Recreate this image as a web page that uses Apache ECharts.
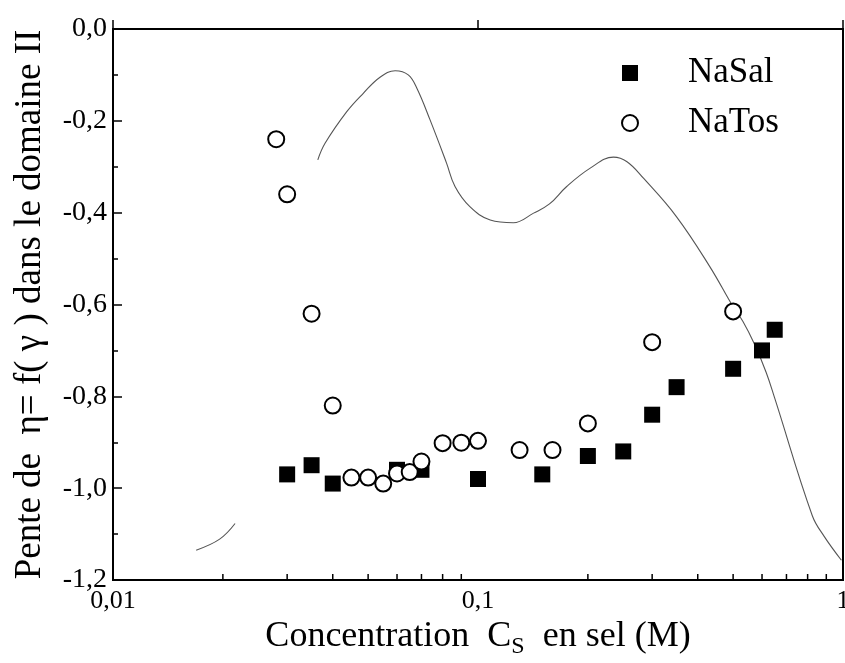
<!DOCTYPE html>
<html>
<head>
<meta charset="utf-8">
<script src="https://cdn.jsdelivr.net/npm/echarts@6/dist/echarts.min.js"></script>
<style>
  html, body { margin: 0; padding: 0; background: #fff; }
  #chart { width: 845px; height: 663px; }
</style>
</head>
<body>
<div id="chart"></div>
<script>
// NaSal (carrés pleins)
const naSalX = [0.03, 0.035, 0.04, 0.06, 0.07, 0.1, 0.15, 0.2, 0.25, 0.3, 0.35, 0.5, 0.6, 0.65]
const naSalY = [-0.97, -0.95, -0.99, -0.96, -0.96, -0.98, -0.97, -0.93, -0.92, -0.84, -0.78, -0.74, -0.70, -0.655]
// NaTos (cercles vides)
const naTosX = [0.028, 0.03, 0.035, 0.04, 0.045, 0.05, 0.055, 0.06, 0.065, 0.07, 0.08, 0.09, 0.1, 0.13, 0.16, 0.2, 0.3, 0.5]
const naTosY = [-0.24, -0.36, -0.62, -0.82, -0.977, -0.977, -0.99, -0.968, -0.965, -0.942, -0.902, -0.901, -0.897, -0.917, -0.917, -0.859, -0.682, -0.615]
// courbe fine (partie visible à gauche, puis partie principale)
const curveLeftX = [0.0169, 0.0196, 0.0216]
const curveLeftY = [-1.135, -1.111, -1.077]
const curveX = [0.0364, 0.0381, 0.0437, 0.0485, 0.0539, 0.0593, 0.0644, 0.068, 0.0739, 0.082, 0.0865, 0.095, 0.108, 0.125, 0.142, 0.157, 0.175, 0.203, 0.235, 0.256, 0.284, 0.35, 0.432, 0.5, 0.532, 0.571, 0.616, 0.65, 0.824, 0.888, 0.99]
const curveY = [-0.285, -0.249, -0.18, -0.14, -0.105, -0.091, -0.1, -0.129, -0.198, -0.292, -0.343, -0.387, -0.416, -0.422, -0.401, -0.381, -0.343, -0.303, -0.279, -0.289, -0.325, -0.409, -0.518, -0.605, -0.637, -0.685, -0.748, -0.804, -1.06, -1.105, -1.157]
// graduations secondaires (axe log)
const xMinorTicks = [0.02, 0.03, 0.04, 0.05, 0.06, 0.07, 0.08, 0.09, 0.2, 0.3, 0.4, 0.5, 0.6, 0.7, 0.8, 0.9]

const Y_MIN = -1.2
const FONT = 'Liberation Serif'

const pairs = (xs, ys) => xs.map((x, i) => [x, ys[i]])

const chart = echarts.init(document.getElementById('chart'))

const curveStyle = { color: '#555', width: 1.1 }

const option = {
    animation: false,
    backgroundColor: '#fff',
    textStyle: { fontFamily: FONT },
    grid: {
        left: 113, right: 2, top: 29, bottom: 83,
        outerBoundsMode: 'none',
        containLabel: false,
        show: true,
        borderColor: '#000',
        borderWidth: 2
    },
    legend: {
        data: ['NaSal', 'NaTos'],
        orient: 'vertical',
        left: 616,
        top: 50,
        itemWidth: 16,
        itemHeight: 16,
        itemGap: 14,
        textStyle: { fontFamily: FONT, fontSize: 35, color: '#000', padding: [0, 0, 0, 45], lineHeight: 36 }
    },
    xAxis: {
        type: 'log',
        logBase: 10,
        min: 0.01,
        max: 1,
        interval: 1,
        name: '{t|Concentration  C}{s|S}{t|  en sel (M)}',
        nameLocation: 'middle',
        nameGap: 28,
        nameTextStyle: {
            rich: {
                t: { fontFamily: FONT, fontSize: 36, color: '#000' },
                s: { fontFamily: FONT, fontSize: 24, color: '#000', padding: [20, 0, 0, 0] }
            }
        },
        axisLine: { lineStyle: { color: '#000', width: 2 } },
        axisTick: { inside: true, length: 9, lineStyle: { color: '#000', width: 1.5 } },
        axisLabel: {
            margin: 8,
            fontFamily: FONT, fontSize: 26, color: '#000',
            formatter: v => String(Number(v.toPrecision(3))).replace('.', ',')
        },
        splitLine: { show: false }
    },
    yAxis: {
        type: 'value',
        min: Y_MIN,
        max: 0,
        interval: 0.2,
        name: 'Pente de  η= f( γ ) dans le domaine II',
        nameLocation: 'middle',
        nameGap: 64,
        nameTextStyle: { fontFamily: FONT, fontSize: 37, color: '#000' },
        axisLine: { lineStyle: { color: '#000', width: 2 } },
        axisTick: { inside: true, length: 9, lineStyle: { color: '#000', width: 1.5 } },
        minorTick: { show: true, splitNumber: 2, length: 5, lineStyle: { color: '#000', width: 1.5 } },
        axisLabel: {
            margin: 6,
            fontFamily: FONT, fontSize: 28, color: '#000',
            formatter: v => v.toFixed(1).replace('.', ',')
        },
        splitLine: { show: false }
    },
    series: [
        {
            type: 'custom',
            silent: true,
            data: xMinorTicks,
            encode: { x: 0 },
            renderItem: (params, api) => {
                const p = api.coord([api.value(0), Y_MIN])
                return {
                    type: 'line',
                    shape: { x1: p[0], y1: p[1], x2: p[0], y2: p[1] - 6 },
                    style: { stroke: '#000', lineWidth: 1.5 }
                }
            }
        },
        {
            type: 'line',
            data: pairs(curveLeftX, curveLeftY),
            smooth: 0.4,
            showSymbol: false,
            silent: true,
            lineStyle: curveStyle,
            z: 1
        },
        {
            type: 'line',
            data: pairs(curveX, curveY),
            smooth: 0.4,
            showSymbol: false,
            silent: true,
            lineStyle: curveStyle,
            z: 1
        },
        {
            name: 'NaSal',
            type: 'scatter',
            data: pairs(naSalX, naSalY),
            symbol: 'rect',
            symbolSize: 16,
            itemStyle: { color: '#000', opacity: 1 },
            z: 3
        },
        {
            name: 'NaTos',
            type: 'scatter',
            data: pairs(naTosX, naTosY),
            symbol: 'circle',
            symbolSize: 16,
            itemStyle: { color: '#fff', borderColor: '#000', borderWidth: 2, opacity: 1 },
            z: 4
        }
    ]
}

chart.setOption(option)
</script>
</body>
</html>
